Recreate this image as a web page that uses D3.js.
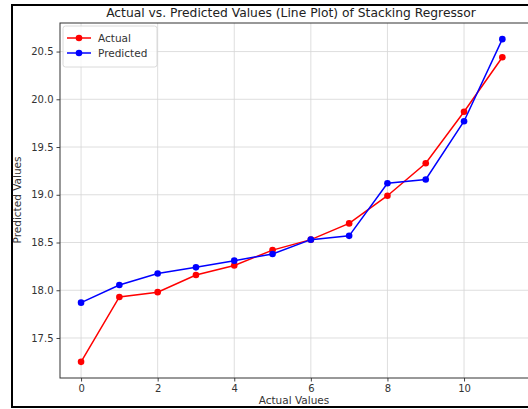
<!DOCTYPE html>
<html>
<head>
<meta charset="utf-8">
<script src="https://cdn.jsdelivr.net/npm/d3@7"></script>
<style>
  html, body { margin: 0; padding: 0; background: #fff; }
  svg { display: block; font-family: "DejaVu Sans", sans-serif; }
</style>
</head>
<body>
<svg id="chart" width="528" height="409"></svg>
<script>
// Sample index on the x axis
const indices = [0, 1, 2, 3, 4, 5, 6, 7, 8, 9, 10, 11];
// Observed target values
const actual = [17.25, 17.93, 17.98, 18.16, 18.26, 18.42, 18.53, 18.70, 18.99, 19.33, 19.87, 20.44];
// Stacking regressor predictions
const predicted = [17.87, 18.055, 18.175, 18.24, 18.31, 18.38, 18.53, 18.57, 19.12, 19.16, 19.77, 20.63];
// Tick values
const xTicks = [0, 2, 4, 6, 8, 10];
const yTicks = [17.5, 18.0, 18.5, 19.0, 19.5, 20.0, 20.5];

const svg = d3.select("#chart");
// The axes box runs past the right edge of the figure
const plot = { left: 60, top: 23, right: 534, bottom: 378 };

// Figure frame
svg.append("rect")
  .attr("x", 12).attr("y", 5).attr("width", 540).attr("height", 402)
  .attr("fill", "none").attr("stroke", "#000").attr("stroke-width", 2);

const x = d3.scaleLinear().domain([-0.55, 11.55]).range([60, 523.4]);
const y = d3.scaleLinear().domain([17.081, 20.799]).range([plot.bottom, plot.top]);

// Grid
const grid = svg.append("g").attr("stroke", "#d6d6d6").attr("stroke-width", 0.8);
grid.selectAll(".gx").data(xTicks).join("line")
  .attr("x1", d => x(d)).attr("x2", d => x(d))
  .attr("y1", plot.top).attr("y2", plot.bottom);
grid.selectAll(".gy").data(yTicks).join("line")
  .attr("x1", plot.left).attr("x2", plot.right)
  .attr("y1", d => y(d)).attr("y2", d => y(d));

// Axes
const xAxis = svg.append("g").attr("transform", `translate(0,${plot.bottom})`)
  .call(d3.axisBottom(x).tickValues(xTicks).tickSize(3.5).tickPadding(3).tickFormat(d3.format("d")));
const yAxis = svg.append("g").attr("transform", `translate(${plot.left},0)`)
  .call(d3.axisLeft(y).tickValues(yTicks).tickSize(3.5).tickPadding(3).tickFormat(d3.format(".1f")));
[xAxis, yAxis].forEach(a => {
  a.select(".domain").remove();
  a.selectAll("line").attr("stroke", "#444");
  a.selectAll("text").attr("fill", "#333").attr("font-size", 10)
    .attr("font-family", "DejaVu Sans, sans-serif");
});

// Plot frame (spines)
svg.append("rect")
  .attr("x", plot.left).attr("y", plot.top)
  .attr("width", plot.right - plot.left).attr("height", plot.bottom - plot.top)
  .attr("fill", "none").attr("stroke", "#333").attr("stroke-width", 1);

// Series
const series = [
  { name: "Actual", values: actual, color: "#ff0000" },
  { name: "Predicted", values: predicted, color: "#0000ff" }
];
const line = d3.line().x((d, i) => x(indices[i])).y(d => y(d));
series.forEach(s => {
  svg.append("path").datum(s.values)
    .attr("d", line).attr("fill", "none")
    .attr("stroke", s.color).attr("stroke-width", 1.5);
  svg.append("g").selectAll("circle").data(s.values).join("circle")
    .attr("cx", (d, i) => x(indices[i])).attr("cy", d => y(d))
    .attr("r", 3.3).attr("fill", s.color);
});

// Legend
const legend = svg.append("g");
legend.append("rect")
  .attr("x", 63).attr("y", 26).attr("width", 94).attr("height", 41).attr("rx", 2.5)
  .attr("fill", "#fff").attr("fill-opacity", 0.8)
  .attr("stroke", "#d0d0d0").attr("stroke-width", 0.8);
series.forEach((s, i) => {
  const ly = 38 + i * 15;
  legend.append("line").attr("x1", 67).attr("x2", 91).attr("y1", ly).attr("y2", ly)
    .attr("stroke", s.color).attr("stroke-width", 1.5);
  legend.append("circle").attr("cx", 79).attr("cy", ly).attr("r", 3.3).attr("fill", s.color);
  legend.append("text").attr("x", 98).attr("y", ly).attr("dy", "0.35em")
    .attr("font-size", 10.5).attr("fill", "#333").text(s.name);
});

// Titles
svg.append("text").attr("x", 291).attr("y", 17).attr("text-anchor", "middle")
  .attr("font-size", 12.3).attr("fill", "#222")
  .text("Actual vs. Predicted Values (Line Plot) of Stacking Regressor");
svg.append("text").attr("x", 294).attr("y", 404).attr("text-anchor", "middle")
  .attr("font-size", 10.5).attr("fill", "#333").text("Actual Values");
svg.append("text").attr("transform", "translate(21,200) rotate(-90)").attr("text-anchor", "middle")
  .attr("font-size", 10.5).attr("fill", "#333").text("Predicted Values");
</script>
</body>
</html>
